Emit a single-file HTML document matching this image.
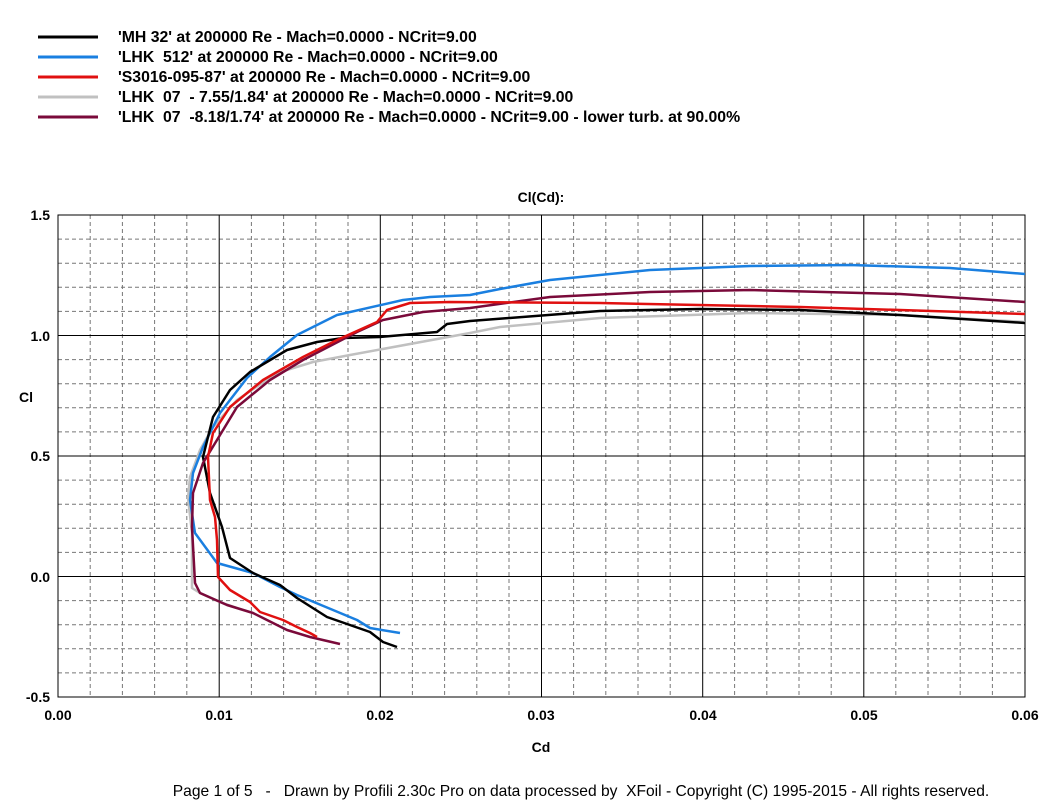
<!DOCTYPE html>
<html><head><style>
body{margin:0;background:#fff;}
svg text{font-family:"Liberation Sans",Arial,sans-serif;white-space:pre;}
</style></head><body>
<svg width="1063" height="805" viewBox="0 0 1063 805" xmlns="http://www.w3.org/2000/svg" xml:space="preserve">
<rect width="1063" height="805" fill="#fff"/>
<g stroke-width="3">
<line x1="38" y1="37" x2="98" y2="37" stroke="#000"/>
<line x1="38" y1="57" x2="98" y2="57" stroke="#1a7fe0"/>
<line x1="38" y1="77" x2="98" y2="77" stroke="#e01010"/>
<line x1="38" y1="97" x2="98" y2="97" stroke="#c0c0c0"/>
<line x1="38" y1="117" x2="98" y2="117" stroke="#7a0a3a"/>
</g>
<g font-size="15.8" font-weight="bold" fill="#000">
<text x="118" y="42">'MH 32' at 200000 Re - Mach=0.0000 - NCrit=9.00</text>
<text x="118" y="62">'LHK  512' at 200000 Re - Mach=0.0000 - NCrit=9.00</text>
<text x="118" y="82">'S3016-095-87' at 200000 Re - Mach=0.0000 - NCrit=9.00</text>
<text x="118" y="102">'LHK  07  - 7.55/1.84' at 200000 Re - Mach=0.0000 - NCrit=9.00</text>
<text x="118" y="122">'LHK  07  -8.18/1.74' at 200000 Re - Mach=0.0000 - NCrit=9.00 - lower turb. at 90.00%</text>
</g>
<text x="541" y="202" font-size="14" font-weight="bold" text-anchor="middle">Cl(Cd):</text>
<g stroke="#777" stroke-width="1" stroke-dasharray="4,3">
<path d="M90.2 215V697M122.4 215V697M154.6 215V697M186.8 215V697M251.4 215V697M283.6 215V697M315.8 215V697M348 215V697M412.4 215V697M444.6 215V697M476.8 215V697M509 215V697M573.6 215V697M605.8 215V697M638 215V697M670.2 215V697M734.6 215V697M766.8 215V697M799 215V697M831.2 215V697M895.8 215V697M928 215V697M960.2 215V697M992.4 215V697"/>
<path d="M58 239.1H1025M58 263.2H1025M58 287.3H1025M58 311.4H1025M58 359.6H1025M58 383.7H1025M58 407.8H1025M58 431.9H1025M58 480.1H1025M58 504.2H1025M58 528.3H1025M58 552.4H1025M58 600.6H1025M58 624.7H1025M58 648.8H1025M58 672.9H1025"/>
</g>
<g stroke="#000" stroke-width="1">
<path d="M219.2 215V697M380.3 215V697M541.5 215V697M702.7 215V697M863.8 215V697M58 335.5H1025M58 456H1025M58 576.5H1025"/>
<rect x="58" y="215" width="967" height="482" fill="none"/>
</g>
<g font-size="14" font-weight="bold">
<g text-anchor="end">
<text x="50" y="220">1.5</text><text x="50" y="341">1.0</text><text x="50" y="461">0.5</text><text x="50" y="582">0.0</text><text x="50" y="702">-0.5</text>
</g>
<g text-anchor="middle">
<text x="58" y="720">0.00</text><text x="219" y="720">0.01</text><text x="380" y="720">0.02</text><text x="541" y="720">0.03</text><text x="703" y="720">0.04</text><text x="864" y="720">0.05</text><text x="1025" y="720">0.06</text>
</g>
<text x="19" y="402">Cl</text>
<text x="541" y="752" text-anchor="middle">Cd</text>
</g>
<g fill="none" stroke-width="2.5" stroke-linejoin="round">
<path stroke="#c0c0c0" d="M1025 322L900 315L750 313L600 318L500 327L470 333L350 355L313 362L277 373L237 400L213 427L200 450L190 477L188 498L192 533L192 588L200 593L220 602L237 608"/>
<path stroke="#1a7fe0" d="M1025 274L950 268L850 265L750 266L650 270L550 280L500 289L470 295L430 297L403 300L337 315L297 335L270 357L247 378L220 413L203 447L193 473L190 500L195 533L217 563L253 573L280 587L297 595L357 620L370 628L400 633"/>
<path stroke="#000" d="M1025 323L900 315L800 310L700 309L600 311L470 321L447 324L437 332L380 337L343 338L317 342L287 350L250 372L230 390L213 417L203 457L210 493L222 527L230 558L253 573L280 585L297 598L327 617L370 632L383 642L397 647"/>
<path stroke="#7a0a3a" d="M1025 302L900 294L750 290L650 292L550 297L470 308L423 312L383 320L357 332L303 360L270 380L237 407L217 440L203 463L193 493L192 527L195 583L200 593L227 605L253 613L273 623L287 630L310 637L340 644"/>
<path stroke="#e01010" d="M1025 314L900 310L800 307L600 303L450 302L410 303L387 310L377 322L337 340L303 357L263 380L230 407L213 433L208 457L210 500L215 517L217 540L218 577L230 590L250 602L260 612L283 620L297 627L310 633L317 637"/>
</g>
<text x="581" y="796" font-size="15.6" text-anchor="middle">Page 1 of 5   -   Drawn by Profili 2.30c Pro on data processed by  XFoil - Copyright (C) 1995-2015 - All rights reserved.</text>
</svg>
</body></html>
